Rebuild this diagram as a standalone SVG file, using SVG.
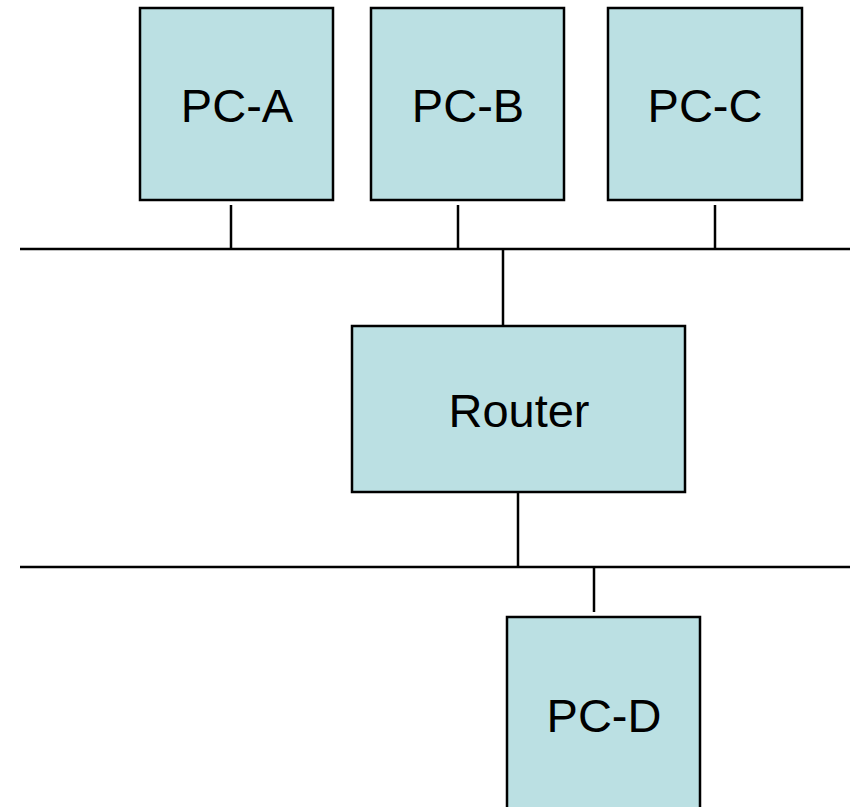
<svg xmlns="http://www.w3.org/2000/svg" width="858" height="807" viewBox="0 0 858 807">
  <style>
    .box { fill: #bbe0e3; stroke: #000; stroke-width: 2.5; }
    .label { font-family: "Liberation Sans", Arial, sans-serif; font-size: 47px; fill: #000; text-anchor: middle; }
    .wire { stroke: #000; stroke-width: 2.5; fill: none; }
  </style>
  <rect width="858" height="807" fill="#fff"/>

  <!-- network segments and drop lines -->
  <g id="connectors">
    <line class="wire" x1="20" y1="249" x2="850" y2="249"/>
    <line class="wire" x1="20" y1="567" x2="850" y2="567"/>
    <line class="wire" x1="231" y1="205" x2="231" y2="249"/>
    <line class="wire" x1="458" y1="205" x2="458" y2="249"/>
    <line class="wire" x1="715" y1="205" x2="715" y2="249"/>
    <line class="wire" x1="503" y1="249" x2="503" y2="326"/>
    <line class="wire" x1="518" y1="492" x2="518" y2="567"/>
    <line class="wire" x1="594" y1="567" x2="594" y2="612"/>
  </g>

  <g id="pc-a">
    <rect class="box" x="140" y="8" width="193" height="192"/>
    <text class="label" x="237" y="122">PC-A</text>
  </g>
  <g id="pc-b">
    <rect class="box" x="371" y="8" width="193" height="192"/>
    <text class="label" x="468" y="122">PC-B</text>
  </g>
  <g id="pc-c">
    <rect class="box" x="608" y="8" width="194" height="192"/>
    <text class="label" x="705" y="122">PC-C</text>
  </g>
  <g id="router">
    <rect class="box" x="352" y="326" width="333" height="166"/>
    <text class="label" x="519" y="427">Router</text>
  </g>
  <g id="pc-d">
    <rect class="box" x="507" y="617" width="193" height="200"/>
    <text class="label" x="604" y="732">PC-D</text>
  </g>
</svg>
